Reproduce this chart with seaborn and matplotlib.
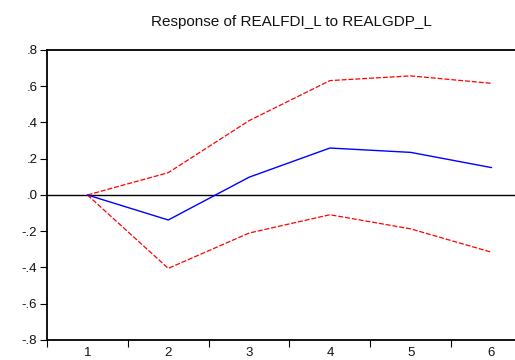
import matplotlib
matplotlib.use("Agg")
import matplotlib.pyplot as plt
import seaborn as sns
import pandas as pd
from matplotlib.ticker import FixedLocator, FixedFormatter

periods = [1, 2, 3, 4, 5, 6]
response = [0.0, -0.138, 0.098, 0.259, 0.235, 0.151]
upper = [0.0, 0.123, 0.41, 0.631, 0.657, 0.616]
lower = [0.0, -0.405, -0.21, -0.109, -0.187, -0.316]
ytick_vals = [0.8, 0.6, 0.4, 0.2, 0.0, -0.2, -0.4, -0.6, -0.8]
ytick_labels = [".8", ".6", ".4", ".2", ".0", "-.2", "-.4", "-.6", "-.8"]
title = "Response of REALFDI_L to REALGDP_L"

sns.set_theme(style="white")
plt.rcParams['font.family'] = ['Liberation Sans', 'DejaVu Sans']

df = pd.DataFrame({"period": periods, "response": response, "upper": upper, "lower": lower})

fig = plt.figure(figsize=(5.15, 3.6), dpi=100)
ax = fig.add_axes([0.0913, 0.0556, 0.9087, 0.8056])

ax.axhline(0, color="black", lw=1.0, zorder=1)
sns.lineplot(data=df, x="period", y="upper", ax=ax, color="#ff0000", lw=0.9, linestyle=(0, (4, 1.5)))
sns.lineplot(data=df, x="period", y="lower", ax=ax, color="#ff0000", lw=0.9, linestyle=(0, (4, 1.5)))
sns.lineplot(data=df, x="period", y="response", ax=ax, color="#0000ff", lw=1.0)

ax.set_xlim(0.5, 6.29)
ax.set_ylim(-0.8, 0.8)
ax.set_xlabel("")
ax.set_ylabel("")

ax.yaxis.set_major_locator(FixedLocator(ytick_vals))
ax.yaxis.set_major_formatter(FixedFormatter(ytick_labels))
ax.xaxis.set_major_locator(FixedLocator(periods))
ax.xaxis.set_major_formatter(FixedFormatter([str(p) for p in periods]))
ax.xaxis.set_minor_locator(FixedLocator([p - 0.5 for p in periods]))

ax.tick_params(axis="y", which="major", direction="out", length=5, width=0.8, color="black",
               labelsize=9.5, pad=2, left=True, labelcolor="#111111")
ax.tick_params(axis="x", which="major", length=0, labelsize=9.5, pad=5, bottom=True, labelcolor="#111111")
ax.tick_params(axis="x", which="minor", direction="out", length=5, width=0.8, color="black", bottom=True)

for side in ["left", "bottom", "top"]:
    ax.spines[side].set_visible(True)
    ax.spines[side].set_color("black")
    ax.spines[side].set_linewidth(1.3)
ax.spines["right"].set_visible(False)

fig.text(0.565, 0.94, title, ha="center", va="center", fontsize=11, color="#111111")

fig.savefig("out.png", dpi=100)
